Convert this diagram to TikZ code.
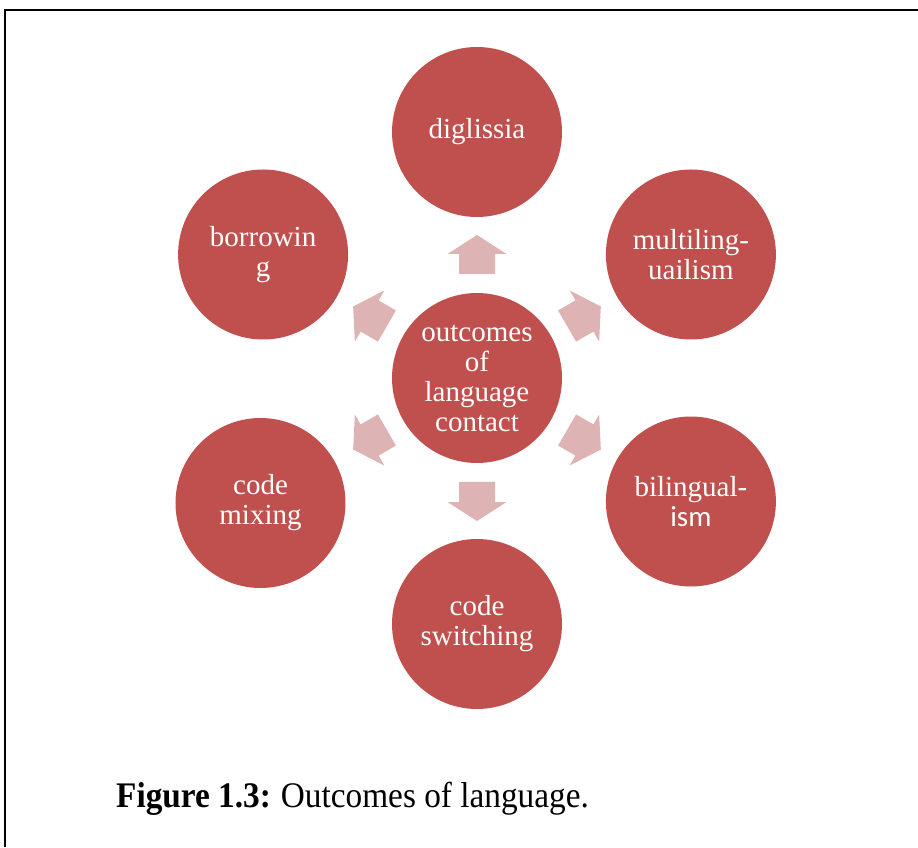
\documentclass[tikz,border=0pt]{standalone}
\usepackage{fontspec}
\setmainfont{Liberation Serif}
\newfontfamily\ismfont{Carlito}
\usetikzlibrary{calc}
\definecolor{circred}{HTML}{C0504D}
\definecolor{arrpink}{HTML}{DDB3B3}
\begin{document}
\begin{tikzpicture}[x=1pt,y=1pt,
  bubble/.style={circle, fill=circred, minimum size=170pt, inner sep=0pt, text=white,
    font=\fontsize{29}{30}\selectfont, align=center},
  blockarrow/.style={fill=arrpink}]
\useasboundingbox (0,0) rectangle (918,847);
\draw[line width=1.6pt] (5,0) -- (5,837) -- (918,837);
\coordinate (c) at (477,469);
\node[bubble] (center) at (c) {outcomes\\of\\language\\contact};
\node[bubble] (dig) at ($(c)+(90:246)$) {diglissia};
\node[bubble] (multi) at ($(c)+(30:247)$) {multiling-\\uailism};
\node[bubble] (bili) at ($(c)+(-30:247)$) {bilingual-\\{\ismfont ism}};
\node[bubble] (switch) at ($(c)+(-90:246)$) {code\\switching};
\node[bubble] (mix) at ($(c)+(-150:250)$) {code\\mixing};
\node[bubble] (borrow) at ($(c)+(150:247)$) {borrowin\\g};
\foreach \a in {90,30,-30,-90,-150,150}{
  \fill[blockarrow, shift={(c)}, rotate=\a]
    (104,-18) -- (124,-18) -- (124,-29.5) -- (143,0) -- (124,29.5) -- (124,18) -- (104,18) -- cycle;
}
\node[anchor=base west, inner sep=0pt, font=\fontsize{36}{40}\selectfont] (cap) at (116,40)
  {\scalebox{0.925}[1]{\textbf{Figure 1.3:}\hspace{0.3em}Outcomes of language.}};
\end{tikzpicture}
\end{document}
